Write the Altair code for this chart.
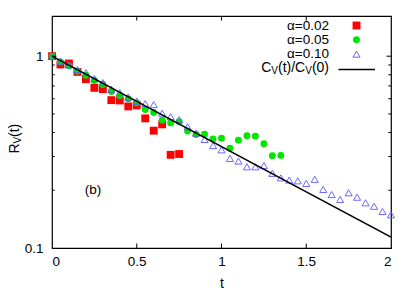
import altair as alt
import pandas as pd

# ---- data ----
t_a002 = [0.00, 0.05, 0.10, 0.15, 0.20, 0.25, 0.30, 0.35, 0.40, 0.45, 0.50, 0.55, 0.60, 0.65, 0.70, 0.75]
r_a002 = [1.000, 0.905, 0.916, 0.828, 0.759, 0.684, 0.673, 0.590, 0.588, 0.547, 0.554, 0.474, 0.409, 0.441, 0.306, 0.309]

t_a005 = [0.00, 0.05, 0.10, 0.15, 0.20, 0.25, 0.30, 0.35, 0.40, 0.45, 0.50, 0.55, 0.60, 0.65,
          0.70, 0.75, 0.80, 0.85, 0.90, 0.95, 1.00, 1.05, 1.10, 1.15, 1.20, 1.25, 1.30, 1.35]
r_a005 = [1.000, 0.934, 0.890, 0.838, 0.796, 0.747, 0.712, 0.655, 0.624, 0.599, 0.571, 0.527, 0.509, 0.464,
          0.449, 0.455, 0.407, 0.391, 0.392, 0.370, 0.373, 0.331, 0.365, 0.385, 0.383, 0.350, 0.303, 0.304]

t_a010 = [0.00, 0.05, 0.10, 0.15, 0.20, 0.25, 0.30, 0.35, 0.40, 0.45, 0.50, 0.55, 0.60, 0.65,
          0.70, 0.75, 0.80, 0.85, 0.90, 0.95, 1.00, 1.05, 1.10, 1.15, 1.20, 1.25, 1.30, 1.35,
          1.40, 1.45, 1.50, 1.55, 1.60, 1.65, 1.70, 1.75, 1.80, 1.85, 1.90, 1.95, 2.00]
r_a010 = [1.000, 0.942, 0.901, 0.851, 0.821, 0.765, 0.728, 0.673, 0.645, 0.612, 0.583, 0.566, 0.559, 0.505,
          0.484, 0.467, 0.429, 0.397, 0.368, 0.342, 0.325, 0.293, 0.284, 0.265, 0.265, 0.269, 0.245, 0.232,
          0.226, 0.224, 0.217, 0.228, 0.202, 0.190, 0.179, 0.194, 0.184, 0.172, 0.165, 0.155, 0.149]

t_line = [0.0, 2.0]
c_line = [1.0, 0.114]

x_ticks = [0, 0.5, 1, 1.5, 2]
x_inner_ticks = [0.5, 1, 1.5]
y_major = [0.1, 1]
y_minor = [0.2, 0.3, 0.4, 0.5, 0.6, 0.7, 0.8, 0.9]

FONT = "Liberation Sans"
W, H = 339, 232

xs = alt.Scale(domain=[0, 2], nice=False, zero=False)
ys = alt.Scale(type="log", domain=[0.1, 1.62], nice=False)

df2 = pd.DataFrame({"t": t_a002, "r": r_a002})
df5 = pd.DataFrame({"t": t_a005, "r": r_a005})
df10 = pd.DataFrame({"t": t_a010, "r": r_a010})
dfl = pd.DataFrame({"t": t_line, "r": c_line})

x_axis = alt.Axis(values=x_ticks, ticks=False, domain=False, grid=False, labelFont=FONT,
                  labelFontSize=13.5, labelColor="black", labelPadding=6, title="t",
                  titleFont=FONT, titleFontSize=14, titleFontWeight="normal", titleColor="black",
                  titlePadding=9, format="~g")
y_axis = alt.Axis(values=y_major, ticks=False, domain=False, grid=False, labelFont=FONT,
                  labelFontSize=13.5, labelColor="black", labelPadding=9, title=None,
                  format="~g")

X = alt.X("t:Q", scale=xs, axis=x_axis, title="t")
Y = alt.Y("r:Q", scale=ys, axis=y_axis, title=None)

red = alt.Chart(df2).mark_point(shape="square", filled=True, color="#ff0000", size=62, opacity=1).encode(x=X, y=Y)
green = alt.Chart(df5).mark_point(shape="circle", filled=True, color="#00e600", size=48, opacity=1).encode(x=X, y=Y)
blue = alt.Chart(df10).mark_point(shape="triangle-up", filled=False, color="#5a5aff", size=50,
                                  strokeWidth=0.9, opacity=1).encode(x=X, y=Y)
line = alt.Chart(dfl).mark_line(color="black", strokeWidth=1.5, clip=True).encode(x=X, y=Y)

# inward ticks (gnuplot style)
dxt = pd.DataFrame({"t": x_inner_ticks})
bt = alt.Chart(dxt).mark_rule(color="black", strokeWidth=1).encode(
    x=X, y=alt.value(H), y2=alt.value(H - 4.5))
tt = alt.Chart(dxt).mark_rule(color="black", strokeWidth=1).encode(
    x=X, y=alt.value(0), y2=alt.value(4.5))
dym = pd.DataFrame({"r": [1.0]})
dyn = pd.DataFrame({"r": y_minor})
lmaj = alt.Chart(dym).mark_rule(color="black", strokeWidth=1).encode(
    y=Y, x=alt.value(0), x2=alt.value(4.5))
rmaj = alt.Chart(dym).mark_rule(color="black", strokeWidth=1).encode(
    y=Y, x=alt.value(W), x2=alt.value(W - 4.5))
lmin = alt.Chart(dyn).mark_rule(color="black", strokeWidth=1).encode(
    y=Y, x=alt.value(0), x2=alt.value(2.7))
rmin = alt.Chart(dyn).mark_rule(color="black", strokeWidth=1).encode(
    y=Y, x=alt.value(W), x2=alt.value(W - 2.7))

one = pd.DataFrame({"a": [0]})


def txt(s, x, y, size=13.5, align="left", angle=0, baseline="middle"):
    return alt.Chart(one).mark_text(text=s, font=FONT, fontSize=size, align=align, baseline=baseline,
                                    angle=angle, color="black").encode(x=alt.value(x), y=alt.value(y))


# y title R_V(t), rotated
yt_R = txt("R", -37.5, 137.5, size=14, angle=270)
yt_V = txt("V", -34, 127.5, size=10, angle=270)
yt_t = txt("(t)", -37.5, 121, size=14, angle=270)

# panel label
lab_b = txt("(b)", 41, 174, size=13.5, align="center")

# legend
LX = 277
rows = [9.5, 23.8, 38.1, 52.4]
leg_t1 = txt("α=0.02", LX, rows[0], align="right")
leg_t2 = txt("α=0.05", LX, rows[1], align="right")
leg_t3 = txt("α=0.10", LX, rows[2], align="right")
leg_s1 = alt.Chart(one).mark_point(shape="square", filled=True, color="#ff0000", size=62, opacity=1).encode(
    x=alt.value(304.5), y=alt.value(rows[0]))
leg_s2 = alt.Chart(one).mark_point(shape="circle", filled=True, color="#00e600", size=48, opacity=1).encode(
    x=alt.value(304.5), y=alt.value(rows[1]))
leg_s3 = alt.Chart(one).mark_point(shape="triangle-up", filled=False, color="#5a5aff", size=50,
                                   strokeWidth=0.9, opacity=1).encode(x=alt.value(304.5), y=alt.value(rows[2]))
leg_l = alt.Chart(one).mark_rule(color="black", strokeWidth=1.5).encode(
    x=alt.value(286.5), x2=alt.value(323), y=alt.value(rows[3] + 1))
# C_V(t)/C_V(0) composed right to left
c1 = txt("(0)", LX, rows[3], size=14, align="right")
c2 = txt("V", LX - 17.1, rows[3] + 3, size=10, align="right")
c3 = txt("(t)/C", LX - 17.1 - 6.7, rows[3], size=14, align="right")
c4 = txt("V", LX - 17.1 - 6.7 - 27.2, rows[3] + 3, size=10, align="right")
c5 = txt("C", LX - 17.1 - 6.7 - 27.2 - 6.7, rows[3], size=14, align="right")

chart = alt.layer(
    red, green, blue, line, bt, tt, lmaj, rmaj, lmin, rmin,
    yt_R, yt_V, yt_t, lab_b,
    leg_t1, leg_t2, leg_t3, leg_s1, leg_s2, leg_s3, leg_l, c1, c2, c3, c4, c5,
).properties(
    width=W, height=H,
    autosize=alt.AutoSizeParams(type="none"),
    padding={"left": 44, "top": 8, "right": 16, "bottom": 45},
    background="white",
).configure_view(stroke="black", strokeWidth=1.2)

chart.save("out.html", embed_options={"renderer": "svg", "actions": False})
